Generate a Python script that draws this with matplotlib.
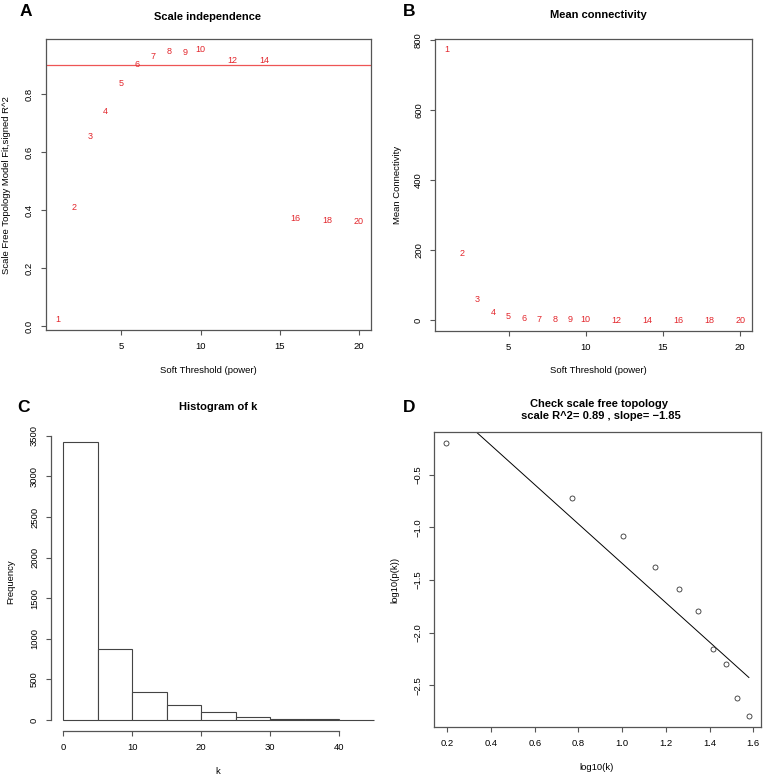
import numpy as np
import matplotlib
matplotlib.use('Agg')
import matplotlib.pyplot as plt

plt.rcParams['font.family'] = ['Liberation Sans', 'DejaVu Sans']

# Soft threshold results
powers = [1, 2, 3, 4, 5, 6, 7, 8, 9, 10, 12, 14, 16, 18, 20]
sft_r2 = [0.024, 0.411, 0.653, 0.741, 0.836, 0.902, 0.931, 0.948, 0.946,
          0.954, 0.916, 0.917, 0.371, 0.366, 0.363]
mean_k = [771, 190, 60, 23, 9.5, 5, 3, 1.5, 1.0, 0.7, 0.3, 0.15, 0.08, 0.05, 0.03]
r2_cut = 0.90

# Histogram of connectivity k
hist_breaks = [0, 5, 10, 15, 20, 25, 30, 35, 40, 45]
hist_counts = [3422, 878, 349, 187, 92, 40, 17, 8, 3]

# Scale free topology check
log_k = [0.194, 0.768, 1.002, 1.151, 1.258, 1.346, 1.416, 1.475, 1.527, 1.580]
log_pk = [-0.198, -0.725, -1.081, -1.376, -1.586, -1.798, -2.154, -2.297, -2.621, -2.792]

W, H = 765, 776
fig = plt.figure(figsize=(W / 100, H / 100), dpi=100)
AX_COL = '#555555'
RED = '#e3262c'
TICK_FS = 6.8
LAB_FS = 6.8
NUM_FS = 6.5


def box(l, t, r, b):
    return [l / W, 1 - b / H, (r - l) / W, (b - t) / H]


def rlim(v):
    lo, hi = min(v), max(v)
    d = (hi - lo) * 0.04
    return lo - d, hi + d


def style(ax):
    for s in ax.spines.values():
        s.set_color(AX_COL)
        s.set_linewidth(0.9)
    ax.tick_params(direction='out', length=3.6, width=0.8, color=AX_COL,
                   labelsize=TICK_FS, pad=5)
    ax.tick_params(axis='y', labelrotation=90)
    for t in ax.get_yticklabels():
        t.set_va('center')


def labels(ax, xl, yl, xpos, ypos):
    ax.set_xlabel(xl, fontsize=LAB_FS, va='center')
    ax.set_ylabel(yl, fontsize=LAB_FS, va='center')
    ax.xaxis.set_label_coords(xpos[0] / W, 1 - xpos[1] / H, transform=fig.transFigure)
    ax.yaxis.set_label_coords(ypos[0] / W, 1 - ypos[1] / H, transform=fig.transFigure)


def ptext(x, y, s, **kw):
    fig.text(x / W, 1 - y / H, s, ha='center', va='center', **kw)


# A: scale independence
axA = fig.add_axes(box(46, 39, 371, 330))
for p, r in zip(powers, sft_r2):
    axA.text(p, r, str(p), color=RED, fontsize=NUM_FS, ha='center', va='center')
axA.axhline(r2_cut, color='#ee5555', lw=0.9)
axA.set_xlim(rlim(powers))
axA.set_ylim(rlim(sft_r2))
axA.set_xticks([5, 10, 15, 20])
axA.set_yticks([0, 0.2, 0.4, 0.6, 0.8])
style(axA)
labels(axA, 'Soft Threshold (power)', 'Scale Free Topology Model Fit,signed R^2',
       (208, 370), (7, 185))
ptext(208, 17, 'Scale independence', fontsize=8, fontweight='bold')

# B: mean connectivity
axB = fig.add_axes(box(435, 39, 752, 331))
for p, k in zip(powers, mean_k):
    axB.text(p, k, str(p), color=RED, fontsize=NUM_FS, ha='center', va='center')
axB.set_xlim(rlim(powers))
axB.set_ylim(rlim(mean_k))
axB.set_xticks([5, 10, 15, 20])
axB.set_yticks([0, 200, 400, 600, 800])
style(axB)
labels(axB, 'Soft Threshold (power)', 'Mean Connectivity', (598, 370), (397, 185))
ptext(598, 15, 'Mean connectivity', fontsize=8, fontweight='bold')

# C: histogram of k
axC = fig.add_axes(box(51, 431, 386, 731))
widths = np.diff(hist_breaks)
axC.bar(hist_breaks[:-1], hist_counts, width=widths, align='edge',
        facecolor='white', edgecolor='#444444', linewidth=0.8)
axC.set_xlim(rlim(hist_breaks))
axC.set_ylim(rlim([0] + hist_counts))
axC.set_xticks([0, 10, 20, 30, 40])
axC.set_yticks(range(0, 3501, 500))
style(axC)
axC.spines['top'].set_visible(False)
axC.spines['right'].set_visible(False)
axC.spines['left'].set_bounds(0, 3500)
axC.spines['bottom'].set_bounds(0, 40)
labels(axC, 'k', 'Frequency', (218, 772), (11, 582))
ptext(218, 407, 'Histogram of k', fontsize=8, fontweight='bold')

# D: scale free topology
axD = fig.add_axes(box(434, 432, 761, 727))
slope, icpt = np.polyfit(log_k, log_pk, 1)
xx = np.array([min(log_k), max(log_k)])
axD.plot(xx, icpt + slope * xx, color='black', lw=0.7)
axD.plot(log_k, log_pk, 'o', mfc='none', mec='#333333', mew=0.6, ms=3.6)
axD.set_xlim(rlim(log_k))
axD.set_ylim(rlim(log_pk))
axD.set_xticks([0.2, 0.4, 0.6, 0.8, 1.0, 1.2, 1.4, 1.6])
axD.set_yticks([-0.5, -1.0, -1.5, -2.0, -2.5])
style(axD)
labels(axD, 'log10(k)', 'log10(p(k))', (597, 767), (395, 580))
ptext(599, 410, 'Check scale free topology\n scale R^2= 0.89 , slope= \u22121.85',
      fontsize=8, fontweight='bold', linespacing=1.25)

# panel letters
for lx, ly, s in [(26, 12, 'A'), (409, 12, 'B'), (24, 407, 'C'), (409, 407, 'D')]:
    ptext(lx, ly, s, fontsize=12.5, fontweight='bold')

fig.savefig('out.png', dpi=100)
